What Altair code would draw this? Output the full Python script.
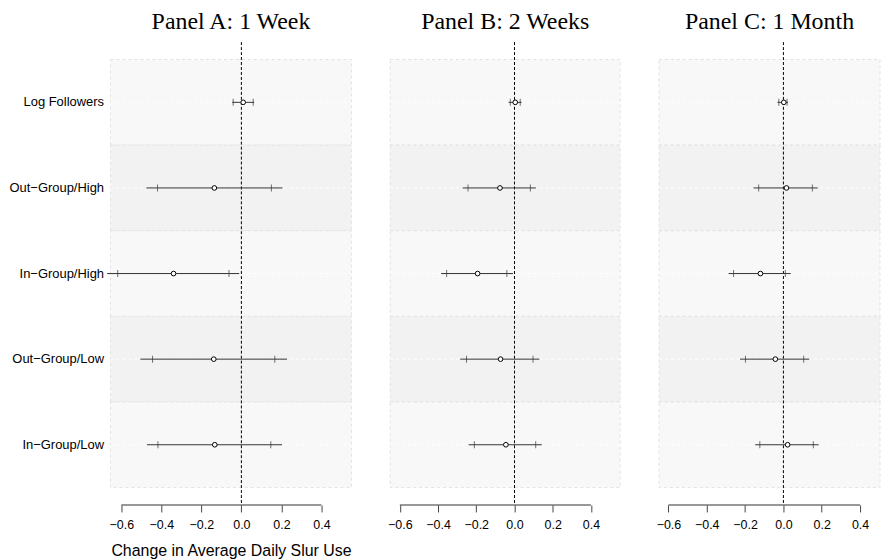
import altair as alt
import pandas as pd

rows = ["Log Followers", "Out\u2212Group/High", "In\u2212Group/High", "Out\u2212Group/Low", "In\u2212Group/Low"]
shade = ["light", "dark", "light", "dark", "light"]

panel_titles = ["Panel A: 1 Week", "Panel B: 2 Weeks", "Panel C: 1 Month"]

# Panel A: 1 Week
a_est = [0.009, -0.135, -0.339, -0.138, -0.133]
a_lo95 = [-0.046, -0.475, -0.671, -0.505, -0.472]
a_hi95 = [0.064, 0.205, -0.011, 0.228, 0.203]
a_lo90 = [-0.041, -0.419, -0.618, -0.444, -0.417]
a_hi90 = [0.059, 0.150, -0.062, 0.167, 0.147]

# Panel B: 2 Weeks
b_est = [0.004, -0.076, -0.193, -0.073, -0.045]
b_lo95 = [-0.031, -0.271, -0.384, -0.284, -0.240]
b_hi95 = [0.037, 0.112, -0.008, 0.130, 0.143]
b_lo90 = [-0.022, -0.243, -0.355, -0.251, -0.210]
b_hi90 = [0.030, 0.083, -0.040, 0.097, 0.111]

# Panel C: 1 Month
c_est = [0.002, 0.016, -0.120, -0.042, 0.022]
c_lo95 = [-0.031, -0.155, -0.286, -0.226, -0.147]
c_hi95 = [0.024, 0.179, 0.038, 0.135, 0.184]
c_lo90 = [-0.024, -0.129, -0.260, -0.198, -0.123]
c_hi90 = [0.019, 0.151, 0.010, 0.106, 0.156]

x_ticks = [-0.6, -0.4, -0.2, 0.0, 0.2, 0.4]
x_title = "Change in Average Daily Slur Use"

panel_widths = [242, 231, 222]
panel_domains = [[-0.654, 0.55], [-0.65, 0.553], [-0.649, 0.504]]
H = 465

def panel(i, est, lo95, hi95, lo90, hi90):
    W = panel_widths[i]
    df = pd.DataFrame({"row": rows, "shade": shade, "est": est,
                       "lo95": lo95, "hi95": hi95, "lo90": lo90, "hi90": hi90})
    base = alt.Chart(df)
    xscale = alt.Scale(domain=panel_domains[i], nice=False, zero=False)
    yscale = alt.Scale(paddingInner=0, paddingOuter=0.2035)
    if i == 0:
        yaxis = alt.Axis(title=None, domain=False, ticks=False, labelPadding=7,
                         labelFontSize=13, labelFont="Liberation Sans", labelColor="#000000",
                         grid=False)
    else:
        yaxis = None
    xaxis = alt.Axis(values=x_ticks, format=".1f", domain=False, grid=False,
                     tickSize=7, tickColor="#444444", labelFontSize=12.5,
                     labelFont="Liberation Sans", labelColor="#000000", labelPadding=7,
                     title=x_title if i == 0 else None,
                     titleFont="Liberation Sans", titleFontSize=16,
                     titleFontWeight="normal", titleColor="#000000", titlePadding=11)
    Y = alt.Y("row:N", sort=rows, scale=yscale, axis=yaxis)

    bands = base.mark_rect(stroke="#e2e2e2", strokeDash=[3, 3], strokeWidth=1).encode(
        y=Y, x=alt.value(0), x2=alt.value(W),
        color=alt.Color("shade:N", scale=alt.Scale(domain=["light", "dark"],
                                                   range=["#f8f8f8", "#f2f2f2"]), legend=None))
    centre = base.mark_rule(color="#ffffff", strokeDash=[3, 3], strokeWidth=1).encode(
        y=Y, x=alt.value(0), x2=alt.value(W))
    zero = alt.Chart(pd.DataFrame({"z": [0.0]})).mark_rule(
        color="#000000", strokeDash=[3, 2], strokeWidth=1).encode(
        x=alt.X("z:Q", scale=xscale, axis=xaxis), y=alt.value(0), y2=alt.value(H))
    axisline = alt.Chart(pd.DataFrame({"a": [x_ticks[0]], "b": [x_ticks[-1]]})).mark_rule(
        color="#333333", strokeWidth=1.2).encode(
        x=alt.X("a:Q", scale=xscale), x2="b:Q", y=alt.value(H), y2=alt.value(H))
    ci = base.mark_rule(color="#333333", strokeWidth=1).encode(
        y=Y, x=alt.X("lo95:Q", scale=xscale), x2="hi95:Q")
    t1 = base.mark_tick(color="#333333", size=7, thickness=1).encode(
        y=Y, x=alt.X("lo90:Q", scale=xscale))
    t2 = base.mark_tick(color="#333333", size=7, thickness=1).encode(
        y=Y, x=alt.X("hi90:Q", scale=xscale))
    pts = base.mark_point(filled=True, fill="#ffffff", stroke="#000000", strokeWidth=1,
                          size=22, opacity=1, shape="circle").encode(
        y=Y, x=alt.X("est:Q", scale=xscale))
    return alt.layer(bands, centre, zero, axisline, ci, t1, t2, pts).properties(
        width=W, height=H,
        title=alt.TitleParams(panel_titles[i], font="Liberation Serif", fontSize=24,
                              fontWeight="normal", color="#000000", offset=8))

chart = alt.hconcat(
    panel(0, a_est, a_lo95, a_hi95, a_lo90, a_hi90),
    panel(1, b_est, b_lo95, b_hi95, b_lo90, b_hi90),
    panel(2, c_est, c_lo95, c_hi95, c_lo90, c_hi90),
    spacing=35,
).resolve_scale(x="independent", y="independent", color="independent").configure_view(
    stroke=None).properties(padding=0, background="#ffffff")

chart.save("out.html", embed_options={"renderer": "svg", "actions": False})
